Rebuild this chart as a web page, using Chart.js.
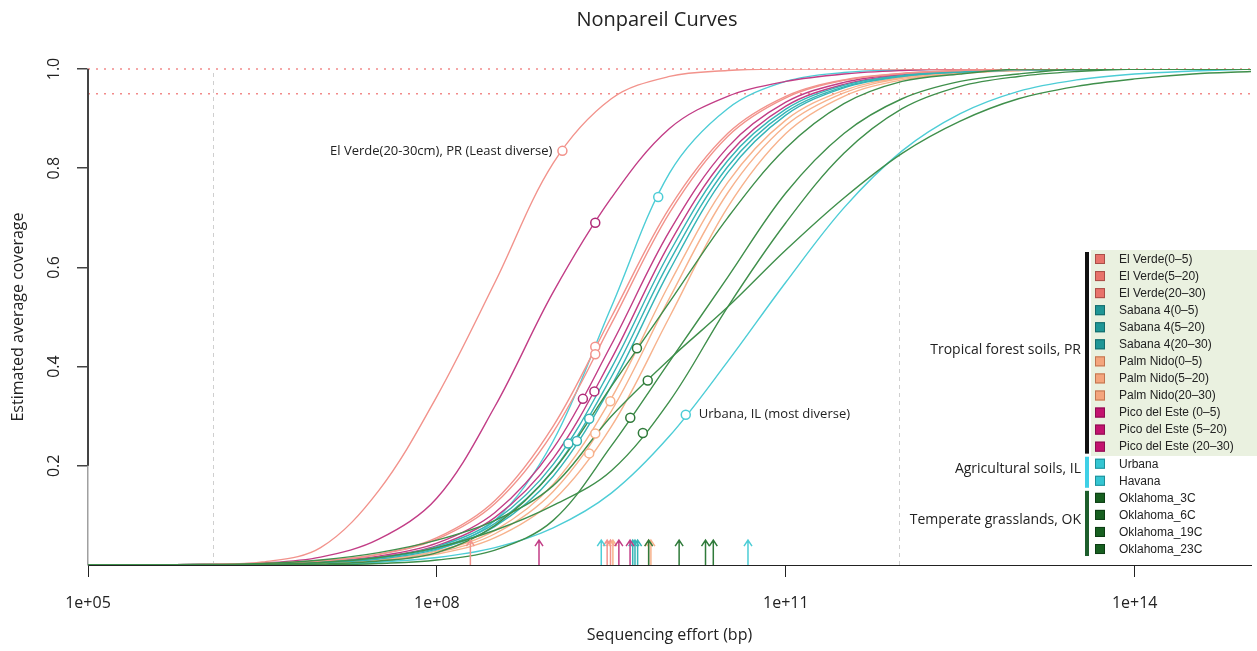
<!DOCTYPE html>
<html>
<head>
<meta charset="utf-8">
<title>Nonpareil Curves</title>
<script src="https://cdn.jsdelivr.net/npm/chart.js@4.4.1/dist/chart.umd.min.js"></script>
<style>
html, body { margin: 0; padding: 0; background: #fff; }
#wrap { width: 1257px; height: 651px; }
</style>
</head>
<body>
<div id="wrap"><canvas id="nonpareil" width="1257" height="651"></canvas></div>
<script>
// sequencing effort grid (bp), half-decade steps
var effort = [1e5, 3.16e5, 1e6, 3.16e6, 1e7, 3.16e7, 1e8, 3.16e8, 1e9, 3.16e9, 1e10,
    3.16e10, 1e11, 3.16e11, 1e12, 3.16e12, 1e13, 3.16e13, 1e14, 3.16e14, 1e15];

// estimated average coverage at the effort grid
var elVerde05   = [0, 0, 0.001, 0.003, 0.009, 0.022, 0.055, 0.13, 0.28, 0.5, 0.72, 0.87, 0.945, 0.978, 0.991, 0.997, 0.999, 1, 1, 1, 1];
var elVerde520  = [0, 0, 0.001, 0.003, 0.008, 0.021, 0.052, 0.124, 0.268, 0.486, 0.71, 0.864, 0.942, 0.977, 0.991, 0.997, 0.999, 1, 1, 1, 1];
var elVerde2030 = [0, 0, 0.001, 0.006, 0.035, 0.15, 0.34, 0.57, 0.81, 0.94, 0.985, 0.997, 1, 1, 1, 1, 1, 1, 1, 1, 1];
var sabana05    = [0, 0, 0.001, 0.002, 0.006, 0.015, 0.037, 0.09, 0.203, 0.397, 0.63, 0.815, 0.919, 0.967, 0.987, 0.995, 0.998, 0.999, 1, 1, 1];
var sabana520   = [0, 0, 0.001, 0.002, 0.005, 0.014, 0.034, 0.084, 0.191, 0.379, 0.612, 0.803, 0.913, 0.964, 0.986, 0.994, 0.998, 0.999, 1, 1, 1];
var sabana2030  = [0, 0, 0.001, 0.002, 0.005, 0.012, 0.032, 0.078, 0.179, 0.361, 0.594, 0.791, 0.907, 0.962, 0.985, 0.994, 0.998, 0.999, 1, 1, 1];
var palm05      = [0, 0, 0.001, 0.002, 0.004, 0.011, 0.028, 0.07, 0.163, 0.336, 0.567, 0.771, 0.897, 0.957, 0.983, 0.993, 0.997, 0.999, 1, 1, 1];
var palm520     = [0, 0, 0.001, 0.002, 0.004, 0.01, 0.025, 0.063, 0.148, 0.31, 0.538, 0.75, 0.886, 0.952, 0.981, 0.992, 0.997, 0.999, 1, 1, 1];
var palm2030    = [0, 0, 0, 0.001, 0.003, 0.009, 0.022, 0.055, 0.13, 0.279, 0.5, 0.721, 0.87, 0.945, 0.978, 0.991, 0.997, 0.999, 1, 1, 1];
var pico05      = [0, 0, 0.001, 0.004, 0.016, 0.052, 0.135, 0.32, 0.55, 0.74, 0.88, 0.945, 0.975, 0.99, 0.997, 1, 1, 1, 1, 1, 1];
var pico520     = [0, 0, 0.001, 0.003, 0.007, 0.018, 0.044, 0.106, 0.235, 0.444, 0.673, 0.842, 0.933, 0.973, 0.99, 0.996, 0.998, 0.999, 1, 1, 1];
var pico2030    = [0, 0, 0.001, 0.002, 0.006, 0.016, 0.039, 0.096, 0.215, 0.415, 0.648, 0.826, 0.925, 0.969, 0.988, 0.995, 0.998, 0.999, 1, 1, 1];
var urbana      = [0, 0, 0, 0.001, 0.002, 0.006, 0.015, 0.035, 0.075, 0.145, 0.26, 0.41, 0.57, 0.72, 0.835, 0.91, 0.955, 0.978, 0.99, 0.996, 1];
var havana      = [0, 0, 0, 0, 0.001, 0.006, 0.03, 0.09, 0.25, 0.52, 0.79, 0.92, 0.975, 0.993, 0.998, 1, 1, 1, 1, 1, 1];
var okla3C      = [0, 0, 0, 0.001, 0.002, 0.008, 0.025, 0.08, 0.19, 0.36, 0.53, 0.7, 0.84, 0.93, 0.975, 0.99, 1, 1, 1, 1, 1];
var okla6C      = [0, 0, 0.001, 0.003, 0.01, 0.025, 0.05, 0.09, 0.16, 0.3, 0.415, 0.52, 0.635, 0.74, 0.83, 0.895, 0.94, 0.965, 0.98, 0.99, 0.995];
var okla19C     = [0, 0, 0, 0, 0, 0.003, 0.01, 0.03, 0.09, 0.24, 0.41, 0.58, 0.75, 0.87, 0.94, 0.975, 0.99, 1, 1, 1, 1];
var okla23C     = [0, 0, 0, 0.001, 0.005, 0.015, 0.035, 0.07, 0.12, 0.19, 0.33, 0.52, 0.69, 0.83, 0.92, 0.965, 0.985, 0.995, 1, 1, 1];

var sampleNames = ['El Verde(0\u20135)', 'El Verde(5\u201320)', 'El Verde(20\u201330)',
    'Sabana 4(0\u20135)', 'Sabana 4(5\u201320)', 'Sabana 4(20\u201330)',
    'Palm Nido(0\u20135)', 'Palm Nido(5\u201320)', 'Palm Nido(20\u201330)',
    'Pico del Este (0\u20135)', 'Pico del Este (5\u201320)', 'Pico del Este (20\u201330)',
    'Urbana', 'Havana', 'Oklahoma_3C', 'Oklahoma_6C', 'Oklahoma_19C', 'Oklahoma_23C'];
var sampleGroup = ['ev', 'ev', 'ev', 'sab', 'sab', 'sab', 'palm', 'palm', 'palm',
    'pico', 'pico', 'pico', 'il', 'il', 'ok', 'ok', 'ok', 'ok'];

// actual sequencing effort of each dataset and the coverage reached there
var sampleEffort   = [2.3e9, 2.3e9, 1.2e9, 1.35e9, 2.04e9, 1.6e9, 3.1e9, 2.3e9, 2.04e9,
    2.3e9, 1.8e9, 2.26e9, 1.38e10, 8.0e9, 5.25e9, 6.5e9, 4.6e9, 5.9e9];
var sampleCoverage = [0.44, 0.425, 0.835, 0.245, 0.295, 0.25, 0.33, 0.265, 0.225,
    0.69, 0.335, 0.35, 0.303, 0.742, 0.437, 0.372, 0.297, 0.266];

// Nd (diversity) arrows on the x axis
var diversityNd = [2.91e9, 3.11e9, 1.94e8, 4.83e9, 5.05e9, 5.32e9, 3.26e9, 6.62e9, 6.92e9,
    7.55e8, 3.67e9, 4.58e9, 4.73e10, 2.59e9, 6.62e9, 2.38e10, 1.21e10, 2.04e10];

var coverageLines = [1, 0.95];
var rangeMarks = [1.2e6, 9.5e11];
var xTicks = [1e5, 1e8, 1e11, 1e14];

var groupLabels = [
    { text: 'Tropical forest soils, PR', from: 0, to: 11, bar: '#111111' },
    { text: 'Agricultural soils, IL', from: 12, to: 13, bar: '#3fd0e6' },
    { text: 'Temperate grasslands, OK', from: 14, to: 17, bar: '#1d5e2c' }
];

var lineColor = { ev: '#f2938c', sab: '#35b4b6', palm: '#f7b28c', pico: '#c23d86', il: '#4dcdd6', ok: '#3f8f4b' };
var boxColor = { ev: '#e8736b', sab: '#1f9696', palm: '#f4a57d', pico: '#c3136f', il: '#34c5d2', ok: '#175f20' };
var boxEdge = { ev: '#a94f48', sab: '#156b6b', palm: '#c07550', pico: '#8a0f50', il: '#1f8f99', ok: '#0d3d14' };

var curves = [elVerde05, elVerde520, elVerde2030, sabana05, sabana520, sabana2030,
    palm05, palm520, palm2030, pico05, pico520, pico2030, urbana, havana,
    okla3C, okla6C, okla19C, okla23C];

var datasets = curves.map(function (cov, i) {
    return {
        label: sampleNames[i],
        data: effort.map(function (x, j) { return { x: x, y: cov[j] }; }),
        borderColor: lineColor[sampleGroup[i]],
        borderWidth: 1.4,
        pointRadius: 0,
        tension: 0.35,
        fill: false,
        order: sampleGroup[i] === 'ok' ? 1 : 2
    };
});

coverageLines.forEach(function (c) {
    datasets.push({
        label: 'ref ' + c,
        data: [{ x: 1e5, y: c }, { x: 1e15, y: c }],
        borderColor: '#f28a8a',
        borderWidth: 1.6,
        borderDash: [2, 6],
        pointRadius: 0,
        tension: 0,
        clip: false,
        order: 5
    });
});

rangeMarks.forEach(function (r) {
    datasets.push({
        label: 'range ' + r,
        data: [{ x: r, y: 0 }, { x: r, y: 1 }],
        borderColor: '#cfcfcf',
        borderWidth: 1,
        borderDash: [4, 4],
        pointRadius: 0,
        tension: 0,
        order: 6
    });
});

datasets.push({
    label: 'markers',
    data: sampleEffort.map(function (x, i) { return { x: x, y: sampleCoverage[i] }; }),
    showLine: false,
    pointRadius: 4.5,
    pointBorderWidth: 1.5,
    pointBackgroundColor: '#ffffff',
    pointBorderColor: sampleGroup.map(function (g) { return g === 'ok' ? '#2f7a3a' : (g === 'pico' ? '#b02a78' : lineColor[g]); }),
    clip: false,
    order: 0
});

var ARROW_TIP = 0.05;

var decorations = {
    id: 'decorations',
    afterDatasetsDraw: function (chart) {
        var ctx = chart.ctx, xs = chart.scales.x, ys = chart.scales.y;
        ctx.save();
        // Nd arrows
        var y0 = ys.getPixelForValue(0), y1 = ys.getPixelForValue(ARROW_TIP);
        diversityNd.forEach(function (v, i) {
            var x = xs.getPixelForValue(v);
            ctx.strokeStyle = sampleGroup[i] === 'ok' ? '#2f7a3a' : lineColor[sampleGroup[i]];
            ctx.lineWidth = 1.5;
            ctx.beginPath();
            ctx.moveTo(x, y0);
            ctx.lineTo(x, y1);
            ctx.moveTo(x - 4, y1 + 6);
            ctx.lineTo(x, y1);
            ctx.lineTo(x + 4, y1 + 6);
            ctx.stroke();
        });
        // darker part of the y axis between the first and last tick
        ctx.strokeStyle = '#444';
        ctx.lineWidth = 2;
        ctx.beginPath();
        ctx.moveTo(xs.left, ys.getPixelForValue(0.2));
        ctx.lineTo(xs.left, ys.getPixelForValue(1));
        ctx.stroke();
        ctx.restore();
    },
    afterDraw: function (chart) {
        var ctx = chart.ctx, xs = chart.scales.x, ys = chart.scales.y;
        ctx.save();
        ctx.fillStyle = '#222';

        // title
        ctx.font = '20px "Open Sans"';
        ctx.textAlign = 'center';
        ctx.textBaseline = 'middle';
        ctx.fillText('Nonpareil Curves', 657, 20);

        // y tick labels, rotated like the original
        ctx.font = '16px "Open Sans"';
        ys.ticks.forEach(function (t) {
            var y = ys.getPixelForValue(t.value);
            ctx.save();
            ctx.translate(xs.left - 34, y);
            ctx.rotate(-Math.PI / 2);
            ctx.fillText(t.value.toFixed(1), 0, 0);
            ctx.restore();
        });

        // labels next to the extreme samples
        ctx.font = '13px "Open Sans"';
        ctx.textAlign = 'right';
        ctx.fillText('El Verde(20-30cm), PR (Least diverse)',
            xs.getPixelForValue(sampleEffort[2]) - 10, ys.getPixelForValue(sampleCoverage[2]));
        ctx.textAlign = 'left';
        ctx.fillText('Urbana, IL (most diverse)',
            xs.getPixelForValue(sampleEffort[12]) + 13, ys.getPixelForValue(sampleCoverage[12]));

        // legend
        var lx = 1095, ly = 259, step = 17.06;
        ctx.fillStyle = '#eaf1e0';
        ctx.fillRect(1091, 250, 166, 206);
        ctx.font = '12px "Liberation Sans"';
        ctx.textAlign = 'left';
        sampleNames.forEach(function (n, i) {
            var y = ly + i * step;
            ctx.fillStyle = boxColor[sampleGroup[i]];
            ctx.fillRect(lx, y - 5, 10, 10);
            ctx.strokeStyle = boxEdge[sampleGroup[i]];
            ctx.lineWidth = 1;
            ctx.strokeRect(lx + 0.5, y - 4.5, 9, 9);
            ctx.fillStyle = '#222';
            ctx.fillText(n, 1119, y + 0.5);
        });
        ctx.font = '14px "Open Sans"';
        ctx.textAlign = 'right';
        groupLabels.forEach(function (g) {
            var top = ly + g.from * step - 7, bottom = ly + g.to * step + 7;
            ctx.fillStyle = g.bar;
            ctx.fillRect(1085, top, 4, bottom - top);
            ctx.fillStyle = '#222';
            ctx.fillText(g.text, 1081, (top + bottom) / 2 - 3);
        });
        ctx.restore();
    }
};

Chart.defaults.font.family = '"Open Sans", sans-serif';
Chart.defaults.color = '#222';

var chart = new Chart(document.getElementById('nonpareil'), {
    type: 'line',
    data: { datasets: datasets },
    options: {
        responsive: false,
        animation: false,
        events: [],
        layout: { padding: { top: 69, right: 2, left: 0, bottom: 0 } },
        plugins: { legend: { display: false }, tooltip: { enabled: false } },
        scales: {
            x: {
                type: 'logarithmic',
                min: 1e5,
                max: 1e15,
                afterBuildTicks: function (scale) {
                    scale.ticks = xTicks.map(function (v) { return { value: v }; });
                },
                afterFit: function (scale) { scale.height = 86; },
                ticks: {
                    autoSkip: false,
                    maxRotation: 0,
                    padding: 17,
                    font: { size: 16 },
                    callback: function (v) {
                        var e = Math.round(Math.log10(v));
                        return '1e+' + (e < 10 ? '0' : '') + e;
                    }
                },
                grid: { drawOnChartArea: false, tickLength: 12, color: '#222' },
                border: { color: '#222', width: 1 },
                title: { display: true, text: 'Sequencing effort (bp)', font: { size: 16 }, padding: { top: 0, bottom: 6 } }
            },
            y: {
                min: 0,
                max: 1,
                afterBuildTicks: function (scale) {
                    scale.ticks = [0.2, 0.4, 0.6, 0.8, 1].map(function (v) { return { value: v }; });
                },
                afterFit: function (scale) { scale.width = 88; },
                ticks: { display: false },
                grid: { drawOnChartArea: false, tickLength: 11, color: '#444', lineWidth: 1.5 },
                border: { color: '#a0a0a0', width: 1.5 },
                title: { display: true, text: 'Estimated average coverage', font: { size: 16 }, padding: { top: 9, bottom: 0 } }
            }
        }
    },
    plugins: [decorations]
});
</script>
</body>
</html>
